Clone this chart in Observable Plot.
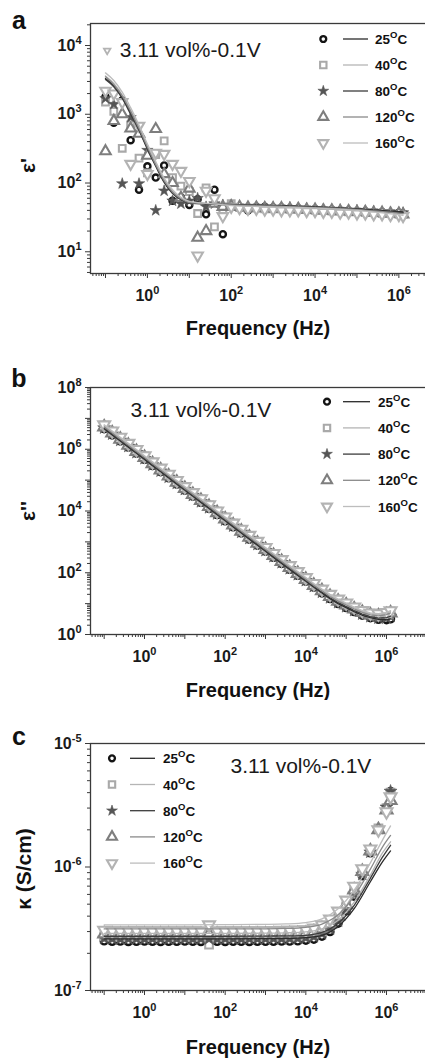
<!DOCTYPE html>
<html>
<head>
<meta charset="utf-8">
<script src="https://cdn.jsdelivr.net/npm/d3@7"></script>
<script src="https://cdn.jsdelivr.net/npm/@observablehq/plot@0.6"></script>
<style>
  html, body { margin: 0; padding: 0; background: #fff; overflow: hidden; }
  #chart { width: 425px; height: 1060px; overflow: hidden; background: #fff; }
  #chart svg { display: block; overflow: hidden; }
</style>
</head>
<body>
<div id="chart"></div>
<script>
// ---------------- data ----------------
const freq = [0.1, 0.158, 0.251, 0.398, 0.631, 1, 1.58, 2.51, 3.98, 6.31, 10, 15.8, 25.1, 39.8, 63.1,
  100, 158, 251, 398, 631, 1000, 1580, 2510, 3980, 6310, 1e4, 1.58e4, 2.51e4, 3.98e4, 6.31e4,
  1e5, 1.58e5, 2.51e5, 3.98e5, 6.31e5, 1e6, 1.26e6];
const temps = ["25", "40", "80", "120", "160"];

// (a) real permittivity ε'
const epsR_25 = [1800, 750, 1600, 420, 80, 175, 120, 180, 55, 62, 48, 58, 35, 80, 18, 48, 44, 40, 45, 45,
  44, 44, 43, 43, 42, 42, 41, 41, 40, 40, 39, 39, 38, 38, 37, 37, 36];
const epsR_40 = [1500, 1100, 320, 700, 230, 140, 260, 410, 120, 90, 75, 36, 85, 23, 40, 50, 44, 43, 43, 42,
  42, 42, 41, 41, 41, 40, 40, 39, 39, 38, 38, 37, 37, 36, 36, 35, 35];
const epsR_80 = [1700, 1400, 98, 900, 98, 300, 40, 77, 55, 50, 55, 60, 45, 50, 48, 47, 46, 45, 45, 45,
  44, 44, 44, 43, 43, 42, 42, 41, 41, 40, 40, 39, 39, 38, 38, 37, 37];
const epsR_120 = [290, 800, 1000, 620, 520, 250, 610, 135, 100, 61, 83, 16, 20, 50, 45, 46, 45, 44, 44, 43,
  43, 43, 42, 42, 41, 41, 40, 40, 39, 39, 38, 38, 37, 37, 36, 36, 35];
const epsR_160 = [2200, 2000, 1500, 190, 680, 135, 275, 265, 190, 150, 107, 8.8, 77, 60, 33, 45, 43, 42, 42, 41,
  41, 40, 40, 40, 39, 39, 38, 38, 37, 37, 36, 36, 35, 35, 34, 34, 33];
const fitFreqA = [0.1, 0.158, 0.251, 0.398, 0.631, 1, 1.58, 2.51, 3.98, 6.31, 10, 31.6, 100, 1000, 1e4, 1e5, 1.26e6];
const fitR_25 = [3300, 2600, 1750, 1050, 600, 320, 180, 105, 72, 58, 52, 50, 49, 47, 45, 42, 38];
const fitR_40 = [3600, 2800, 1900, 1150, 650, 350, 195, 112, 76, 60, 53, 50, 48, 46, 44, 41, 36];
const fitR_80 = [3200, 2500, 1700, 1000, 580, 310, 175, 102, 70, 57, 51, 49, 48, 46, 44, 41, 37];
const fitR_120 = [3500, 2700, 1850, 1100, 620, 335, 185, 108, 74, 59, 52, 50, 48, 46, 44, 41, 36];
const fitR_160 = [4000, 3100, 2100, 1250, 700, 370, 205, 118, 80, 62, 54, 50, 47, 45, 43, 40, 34];

// (b) imaginary permittivity ε''
const epsI_25 = [4.6e6, 2.9e6, 1.85e6, 1.17e6, 7.4e5, 4.7e5, 2.95e5, 1.86e5, 1.18e5, 7.4e4, 4.7e4, 3.0e4, 1.9e4, 1.2e4, 7.6e3,
  4.8e3, 3.05e3, 1.93e3, 1.22e3, 780, 495, 315, 200, 128, 82, 53, 34, 22, 14.5, 10, 7.4, 5.5, 4.2, 3.5, 3.1, 3.0, 3.2];
const epsI_40 = [5.8e6, 3.7e6, 2.3e6, 1.47e6, 9.3e5, 5.9e5, 3.7e5, 2.3e5, 1.47e5, 9.3e4, 5.9e4, 3.75e4, 2.4e4, 1.52e4, 9.6e3,
  6.1e3, 3.9e3, 2.45e3, 1.56e3, 990, 630, 400, 255, 163, 104, 67, 43, 28, 19, 13, 9.8, 7.3, 5.6, 4.7, 4.4, 4.9, 5.6];
const epsI_80 = [4.9e6, 3.1e6, 1.95e6, 1.24e6, 7.8e5, 5.0e5, 3.1e5, 1.97e5, 1.25e5, 7.9e4, 5.0e4, 3.2e4, 2.0e4, 1.28e4, 8.1e3,
  5.1e3, 3.25e3, 2.05e3, 1.3e3, 830, 525, 335, 213, 136, 87, 56, 36, 23.5, 15.5, 10.8, 8.0, 6.0, 4.6, 3.8, 3.4, 3.5, 3.9];
const epsI_120 = [5.3e6, 3.35e6, 2.1e6, 1.34e6, 8.5e5, 5.4e5, 3.4e5, 2.13e5, 1.35e5, 8.5e4, 5.4e4, 3.45e4, 2.2e4, 1.39e4, 8.8e3,
  5.55e3, 3.5e3, 2.22e3, 1.41e3, 900, 570, 365, 232, 148, 95, 61, 39, 26, 17, 12, 9.0, 6.7, 5.2, 4.3, 4.0, 4.4, 5.0];
const epsI_160 = [6.2e6, 3.9e6, 2.45e6, 1.55e6, 9.8e5, 6.2e5, 3.9e5, 2.45e5, 1.55e5, 9.8e4, 6.2e4, 3.95e4, 2.5e4, 1.6e4, 1.0e4,
  6.4e3, 4.05e3, 2.57e3, 1.63e3, 1040, 660, 420, 268, 171, 109, 70, 45, 29.5, 20, 14, 10.5, 7.8, 6.0, 5.0, 4.7, 5.2, 5.9];

// (c) conductivity κ (S/cm)
const kap_25 = [2.52e-7, 2.50e-7, 2.51e-7, 2.49e-7, 2.50e-7, 2.51e-7, 2.50e-7, 2.49e-7, 2.50e-7, 2.50e-7,
  2.51e-7, 2.50e-7, 2.49e-7, 2.50e-7, 2.50e-7, 2.49e-7, 2.50e-7, 2.50e-7, 2.49e-7, 2.50e-7,
  2.50e-7, 2.50e-7, 2.51e-7, 2.51e-7, 2.52e-7, 2.55e-7, 2.60e-7, 2.75e-7, 3.0e-7, 3.5e-7,
  4.4e-7, 5.8e-7, 8.5e-7, 1.3e-6, 2.0e-6, 3.0e-6, 4.1e-6];
const kap_40 = [2.74e-7, 2.72e-7, 2.71e-7, 2.72e-7, 2.73e-7, 2.72e-7, 2.71e-7, 2.72e-7, 2.72e-7, 2.71e-7,
  2.72e-7, 2.71e-7, 2.72e-7, 2.35e-7, 2.70e-7, 2.72e-7, 2.71e-7, 2.72e-7, 2.72e-7, 2.71e-7,
  2.72e-7, 2.72e-7, 2.73e-7, 2.73e-7, 2.74e-7, 2.78e-7, 2.85e-7, 3.0e-7, 3.3e-7, 3.85e-7,
  4.8e-7, 6.3e-7, 9.0e-7, 1.35e-6, 2.05e-6, 3.0e-6, 4.0e-6];
const kap_80 = [2.64e-7, 2.62e-7, 2.61e-7, 2.62e-7, 2.62e-7, 2.61e-7, 2.62e-7, 2.62e-7, 2.61e-7, 2.62e-7,
  2.62e-7, 2.61e-7, 2.62e-7, 2.62e-7, 2.61e-7, 2.62e-7, 2.62e-7, 2.61e-7, 2.62e-7, 2.62e-7,
  2.62e-7, 2.63e-7, 2.62e-7, 2.63e-7, 2.64e-7, 2.67e-7, 2.73e-7, 2.88e-7, 3.15e-7, 3.65e-7,
  4.55e-7, 6.0e-7, 8.7e-7, 1.32e-6, 2.05e-6, 3.05e-6, 4.1e-6];
const kap_120 = [2.87e-7, 2.85e-7, 2.84e-7, 2.85e-7, 2.86e-7, 2.85e-7, 2.84e-7, 2.85e-7, 2.85e-7, 2.84e-7,
  2.85e-7, 2.85e-7, 2.84e-7, 2.85e-7, 2.85e-7, 2.84e-7, 2.85e-7, 2.85e-7, 2.85e-7, 2.84e-7,
  2.85e-7, 2.85e-7, 2.86e-7, 2.87e-7, 2.88e-7, 2.9e-7, 2.98e-7, 3.15e-7, 3.45e-7, 4.0e-7,
  4.95e-7, 6.5e-7, 9.2e-7, 1.35e-6, 2.0e-6, 2.9e-6, 3.45e-6];
const kap_160 = [3.08e-7, 3.05e-7, 3.04e-7, 3.05e-7, 3.06e-7, 3.05e-7, 3.04e-7, 3.05e-7, 3.05e-7, 3.04e-7,
  3.05e-7, 3.05e-7, 3.04e-7, 3.40e-7, 3.05e-7, 3.04e-7, 3.05e-7, 3.05e-7, 3.05e-7, 3.04e-7,
  3.05e-7, 3.06e-7, 3.07e-7, 3.08e-7, 3.09e-7, 3.1e-7, 3.2e-7, 3.4e-7, 3.8e-7, 4.4e-7,
  5.4e-7, 7.0e-7, 9.7e-7, 1.4e-6, 2.0e-6, 2.8e-6, 3.7e-6];
const fitFreqC = [0.1, 1, 10, 100, 1000, 3162, 1e4, 2.51e4, 6.31e4, 1.58e5, 3.98e5, 7.94e5, 1.26e6];
const fitK_25 = [2.62e-7, 2.62e-7, 2.62e-7, 2.62e-7, 2.63e-7, 2.64e-7, 2.68e-7, 2.8e-7, 3.3e-7, 4.6e-7, 7.6e-7, 1.1e-6, 1.35e-6];
const fitK_40 = [2.9e-7, 2.9e-7, 2.9e-7, 2.9e-7, 2.91e-7, 2.93e-7, 2.98e-7, 3.15e-7, 3.7e-7, 5.2e-7, 8.6e-7, 1.3e-6, 1.6e-6];
const fitK_80 = [2.75e-7, 2.75e-7, 2.75e-7, 2.75e-7, 2.76e-7, 2.77e-7, 2.8e-7, 2.95e-7, 3.5e-7, 4.9e-7, 8.1e-7, 1.2e-6, 1.5e-6];
const fitK_120 = [3.15e-7, 3.15e-7, 3.15e-7, 3.15e-7, 3.16e-7, 3.18e-7, 3.25e-7, 3.45e-7, 4.1e-7, 5.8e-7, 9.6e-7, 1.45e-6, 1.8e-6];
const fitK_160 = [3.4e-7, 3.4e-7, 3.4e-7, 3.41e-7, 3.43e-7, 3.46e-7, 3.55e-7, 3.8e-7, 4.6e-7, 6.5e-7, 1.08e-6, 1.65e-6, 2.15e-6];

// tick values and labels (base^exponent)
const xLabelTicksVals = [1, 100, 1e4, 1e6];
const xTickLabels = ["10^0", "10^2", "10^4", "10^6"];
const xDecades = [0.1, 1, 10, 100, 1000, 1e4, 1e5, 1e6, 1e7];
const yTicksA = [10, 100, 1000, 1e4];
const yLabelsA = ["10^1", "10^2", "10^3", "10^4"];
const yTicksB = [1, 100, 1e4, 1e6, 1e8];
const yLabelsB = ["10^0", "10^2", "10^4", "10^6", "10^8"];
const yDecadesB = [1, 10, 100, 1000, 1e4, 1e5, 1e6, 1e7, 1e8];
const yTicksC = [1e-7, 1e-6, 1e-5];
const yLabelsC = ["10^-7", "10^-6", "10^-5"];
const annotation = "3.11 vol%-0.1V";
const xTitle = "Frequency (Hz)";

// ---------------- styling ----------------
const FONT = '"Liberation Sans", Arial, Helvetica, sans-serif';
const markerColor = ["#141414", "#a9a9a9", "#555555", "#7e7e7e", "#b3b3b3"];
const lineColor = ["#2a2a2a", "#b5b5b5", "#3c3c3c", "#8a8a8a", "#bdbdbd"];
const triDown = {
  draw(ctx, size) {
    const s3 = Math.sqrt(3);
    const y = Math.sqrt(size / (s3 * 3));
    ctx.moveTo(0, 2 * y);
    ctx.lineTo(-s3 * y, -y);
    ctx.lineTo(s3 * y, -y);
    ctx.closePath();
  }
};
const symbolPlot = ["circle", "square", "star", "triangle", triDown];
const symbolD3 = [d3.symbolCircle, d3.symbolSquare, d3.symbolStar, d3.symbolTriangle, triDown];
const markerStyle = [
  {r: 2.9, fill: "#fff", stroke: markerColor[0], strokeWidth: 2.4},
  {r: 3.6, fill: "#fff", stroke: markerColor[1], strokeWidth: 2.1},
  {r: 3.4, fill: markerColor[2], stroke: markerColor[2], strokeWidth: 0.6},
  {r: 3.7, fill: "#fff", stroke: markerColor[3], strokeWidth: 2.1},
  {r: 3.7, fill: "#fff", stroke: markerColor[4], strokeWidth: 2.1}
];

function rows(fs, vs, t) { return fs.map((f, k) => ({f, v: vs[k], t})); }
function minorTicks(lo, hi) {
  const out = [];
  for (let e = Math.floor(Math.log10(lo)) - 1; e <= Math.ceil(Math.log10(hi)); e++)
    for (let m = 2; m <= 9; m++) { const v = m * Math.pow(10, e); if (v >= lo && v <= hi) out.push(v); }
  return out;
}
function labelMap(vals, labels) {
  const m = new Map(vals.map((v, i) => [Math.round(Math.log10(v)), labels[i]]));
  return d => m.get(Math.round(Math.log10(d))) ?? "";
}
// turn "10^4" tick texts into 10 + superscript tspan
function superscriptTicks(svgNode) {
  d3.select(svgNode).selectAll("text").each(function () {
    const s = this.textContent;
    const m = /^(10)\^(-?\d+)$/.exec(s);
    if (!m) return;
    const t = d3.select(this);
    t.text(null);
    t.append("tspan").text(m[1]);
    t.append("tspan").attr("font-size", 11).attr("dy", -7).text(m[2]);
  });
}

function makePanel(cfg) {
  const xd = cfg.xDomain, yd = cfg.yDomain;
  const k = cfg.markerScale;
  const marks = [
    Plot.frame({stroke: "#3a3a3a", strokeWidth: 1.3}),
    Plot.axisX({ticks: minorTicks(xd[0], xd[1]), tickSize: 3, tickFormat: () => "", label: null, stroke: "#3a3a3a"}),
    Plot.axisX({ticks: xDecades.filter(d => d >= xd[0] && d <= xd[1]), tickSize: 5, tickPadding: 11,
      tickFormat: labelMap(xLabelTicksVals, xTickLabels), label: null, stroke: "#3a3a3a", fontSize: 16}),
    Plot.axisY({ticks: minorTicks(yd[0], yd[1]), tickSize: 3, tickFormat: () => "", label: null, stroke: "#3a3a3a"}),
    Plot.axisY({ticks: cfg.yDecades.filter(d => d >= yd[0] * 0.999 && d <= yd[1] * 1.001), tickSize: 5, tickPadding: 4,
      tickFormat: labelMap(cfg.yTicks, cfg.yLabels), label: null, stroke: "#3a3a3a", fontSize: 16})
  ];
  cfg.series.forEach((arr, i) => {
    const st = markerStyle[i];
    marks.push(Plot.dot(rows(freq, arr, temps[i]), {x: "f", y: "v", symbol: symbolPlot[i], r: st.r * k,
      fill: st.fill, stroke: st.stroke, strokeWidth: st.strokeWidth}));
  });
  cfg.fits.forEach((arr, i) => {
    marks.push(Plot.line(rows(cfg.fitFreq, arr, temps[i]), {x: "f", y: "v", stroke: lineColor[i],
      strokeWidth: 1.3, curve: cfg.curve}));
  });
  marks.push(
    Plot.text([cfg.letter], {frameAnchor: "top-left", dx: -71.5, dy: cfg.letterDy, fontSize: 25, fontWeight: "bold",
      fontFamily: FONT, fill: "#111", textAnchor: "middle", lineAnchor: "middle"}),
    Plot.text([cfg.yTitle], {frameAnchor: "left", dx: cfg.yTitleDx, dy: cfg.yTitleDy, rotate: -90, fontSize: 21,
      fontWeight: "bold", fontFamily: FONT, fill: "#111", textAnchor: "middle", lineAnchor: "middle"}),
    Plot.text([xTitle], {frameAnchor: "bottom", dx: -5, dy: cfg.xTitleDy, fontSize: 20, fontWeight: "bold",
      fontFamily: FONT, fill: "#111", textAnchor: "middle", lineAnchor: "middle"}),
    Plot.text([annotation], {frameAnchor: "top-left", dx: cfg.annotDx, dy: cfg.annotDy, fontSize: 21,
      fontWeight: "normal", fontFamily: FONT, fill: "#1a1a1a", textAnchor: "start", lineAnchor: "middle"})
  );
  if (cfg.annotMarker) {
    marks.push(Plot.dot([0], {frameAnchor: "top-left", dx: 16.7, dy: 27, symbol: triDown, r: 2.4,
      fill: "none", stroke: markerColor[4], strokeWidth: 1.8}));
  }
  const svg = Plot.plot({
    width: 425, height: cfg.height,
    marginLeft: 90, marginRight: -10, marginTop: cfg.marginTop, marginBottom: cfg.marginBottom,
    x: {type: "log", domain: xd},
    y: {type: "log", domain: yd},
    style: {fontFamily: FONT, fontSize: "16px", fontWeight: "bold", color: "#1a1a1a", background: "#fff", overflow: "hidden"},
    marks
  });
  superscriptTicks(svg);
  addLegend(svg, cfg.legend);
  return svg;
}

function addLegend(svgNode, lg) {
  const g = d3.select(svgNode).append("g")
    .attr("font-family", FONT).attr("font-weight", "bold").attr("font-size", 13.5)
    .attr("text-anchor", "start");
  temps.forEach((t, i) => {
    const y = lg.y0 + i * lg.dy;
    const st = markerStyle[i];
    g.append("path")
      .attr("transform", `translate(${lg.mx},${y})`)
      .attr("d", d3.symbol(symbolD3[i], Math.PI * st.r * st.r)())
      .attr("fill", st.fill).attr("stroke", st.stroke).attr("stroke-width", st.strokeWidth);
    g.append("line").attr("x1", lg.l1).attr("x2", lg.l2).attr("y1", y).attr("y2", y)
      .attr("stroke", lineColor[i]).attr("stroke-width", 1.3);
    const tx = g.append("text").attr("x", lg.tx).attr("y", y + 5).attr("fill", "#111")
      .attr("text-anchor", "start");
    tx.append("tspan").text(t);
    tx.append("tspan").attr("font-size", 9.5).attr("dy", -6).text("O");
    tx.append("tspan").attr("dy", 6).text("C");
  });
}

const chart = document.getElementById("chart");

chart.appendChild(makePanel({
  height: 345, marginTop: 23, marginBottom: 72,
  xDomain: [0.0439, 7.48e6], yDomain: [4.83, 20900],
  yTicks: yTicksA, yLabels: yLabelsA, yDecades: yTicksA, markerScale: 1.05,
  series: [epsR_25, epsR_40, epsR_80, epsR_120, epsR_160],
  fitFreq: fitFreqA, fits: [fitR_25, fitR_40, fitR_80, fitR_120, fitR_160], curve: "monotone-x",
  letter: "a", letterDy: -3, yTitle: "ε'", yTitleDx: -62, yTitleDy: 17, xTitleDy: 55,
  annotDx: 29.3, annotDy: 27, annotMarker: true,
  legend: {mx: 323.3, y0: 39, dy: 26, l1: 343, l2: 368, tx: 375}
}));

chart.appendChild(makePanel({
  height: 355, marginTop: 42, marginBottom: 66,
  xDomain: [0.0458, 1.64e7], yDomain: [1, 1e8],
  yTicks: yTicksB, yLabels: yLabelsB, yDecades: yDecadesB, markerScale: 1.2,
  series: [epsI_25, epsI_40, epsI_80, epsI_120, epsI_160],
  fitFreq: freq, fits: [epsI_25, epsI_40, epsI_80, epsI_120, epsI_160], curve: "linear",
  letter: "b", letterDy: -8.5, yTitle: "ε''", yTitleDx: -62, yTitleDy: 0, xTitleDy: 56,
  annotDx: 40, annotDy: 22.5, annotMarker: false,
  legend: {mx: 327, y0: 56.7, dy: 26.2, l1: 343, l2: 370, tx: 378}
}));

chart.appendChild(makePanel({
  height: 360, marginTop: 43, marginBottom: 70,
  xDomain: [0.0458, 1.64e7], yDomain: [1e-7, 1e-5],
  yTicks: yTicksC, yLabels: yLabelsC, yDecades: yTicksC, markerScale: 1.2,
  series: [kap_25, kap_40, kap_80, kap_120, kap_160],
  fitFreq: fitFreqC, fits: [fitK_25, fitK_40, fitK_80, fitK_120, fitK_160], curve: "monotone-x",
  letter: "c", letterDy: -7, yTitle: "κ (S/cm)", yTitleDx: -66, yTitleDy: 2, xTitleDy: 57,
  annotDx: 140, annotDy: 22.5, annotMarker: false,
  legend: {mx: 112, y0: 58.3, dy: 26.2, l1: 130, l2: 155, tx: 163}
}));
</script>
</body>
</html>
